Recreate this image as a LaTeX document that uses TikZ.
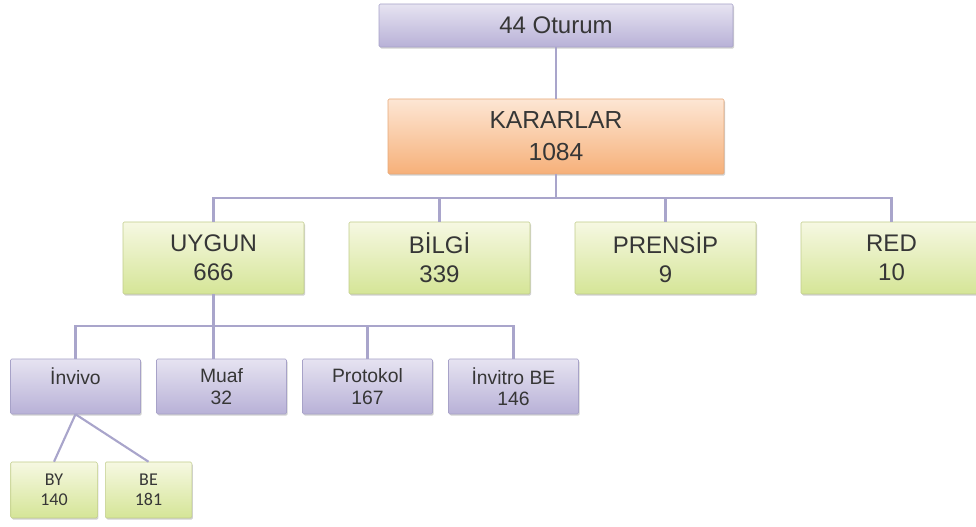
\documentclass[tikz,border=0pt]{standalone}
\usepackage{fontspec}
\setmainfont{Liberation Sans}
\newfontfamily\leaffont{Carlito}
\usetikzlibrary{shadows}

\definecolor{lilacTop}{HTML}{E6E3F1}
\definecolor{lilacBot}{HTML}{B8B1D7}
\definecolor{lilacLine}{HTML}{A7A2C8}
\definecolor{peachTop}{HTML}{FDE6D4}
\definecolor{peachBot}{HTML}{F6B079}
\definecolor{peachLine}{HTML}{E6A878}
\definecolor{limeTop}{HTML}{F6F8E2}
\definecolor{limeBot}{HTML}{D5E597}
\definecolor{limeLine}{HTML}{C1CD8C}
\definecolor{wire}{HTML}{A9A5CB}
\definecolor{ink}{HTML}{363636}

\begin{document}
\begin{tikzpicture}[x=0.75pt, y=-0.75pt,
		box/.style={
			draw,
			align=center,
			inner sep=0pt,
			rounded corners=1pt,
			text=ink,
			drop shadow={shadow xshift=0.8pt, shadow yshift=-1.2pt, opacity=0.18, fill=black}},
		lilac/.style={
			box,
			draw=lilacLine,
			top color=lilacTop,
			bottom color=lilacBot},
		peach/.style={
			box,
			draw=peachLine,
			top color=peachTop,
			bottom color=peachBot},
		lime/.style={
			box,
			draw=limeLine,
			top color=limeTop,
			bottom color=limeBot},
		head/.style={
			minimum height=56.25pt,
			minimum width=252pt,
			font=\fontsize{18.5}{24}\selectfont},
		branch/.style={
			minimum height=54pt,
			minimum width=135.75pt,
			font=\fontsize{18}{22}\selectfont},
		twig/.style={
			minimum height=41.25pt,
			minimum width=97.5pt,
			font=\fontsize{14.5}{16}\selectfont},
		leaf/.style={
			minimum height=42pt,
			minimum width=64.9pt,
			font=\leaffont\fontsize{13.5}{15}\selectfont},
		wire/.style={
			draw=wire,
			line width=1.6pt}]

		\useasboundingbox (0,0) rectangle (976,527);

		\node (oturum) [lilac, minimum height=32.25pt, minimum width=265.5pt,
			font=\fontsize{18}{22}\selectfont] at (556,25.5) {44 Oturum};
		\node (kararlar) [peach, head] at (556,136.5) {KARARLAR\\1084};

		\node (uygun) [lime, branch] at (213.5,258) {UYGUN\\666};
		\node (bilgi) [lime, branch, node distance=169.5pt, right of = uygun] {BİLGİ\\339};
		\node (prensip) [lime, branch, node distance=169.5pt, right of = bilgi] {PRENSİP\\9};
		\node (red) [lime, branch, node distance=169.5pt, right of = prensip] {RED\\10};

		\node (invivo) [lilac, twig] at (75.5,386.5) {İnvivo\\\phantom{0}};
		\node (muaf) [lilac, twig, node distance=109.5pt, right of = invivo] {Muaf\\32};
		\node (protokol) [lilac, twig, node distance=109.5pt, right of = muaf] {Protokol\\167};
		\node (invitro) [lilac, twig, node distance=109.5pt, right of = protokol] {İnvitro BE\\146};

		\node (by) [lime, leaf] at (54,490) {BY\\140};
		\node (be) [lime, leaf, node distance=70.9pt, right of = by] {BE\\181};

		\coordinate (bus1) at (556,198);
		\coordinate (bus2) at (213.5,326);

		\draw [wire] (oturum) -- (kararlar);
		\draw [wire] (kararlar) -- (bus1);
		\foreach \n in {uygun,bilgi,prensip,red}
			\draw [wire] (\n.north) |- (bus1);

		\draw [wire] (uygun) -- (bus2);
		\draw [wire] (bus2) -- (bus2 |- muaf.north);
		\foreach \n in {invivo,protokol,invitro}
			\draw [wire] (\n.north) |- (bus2);

		\draw [wire] (invivo.south) -- (by.north);
		\draw [wire] (invivo.south) -- (be.north);
	\end{tikzpicture}
\end{document}
